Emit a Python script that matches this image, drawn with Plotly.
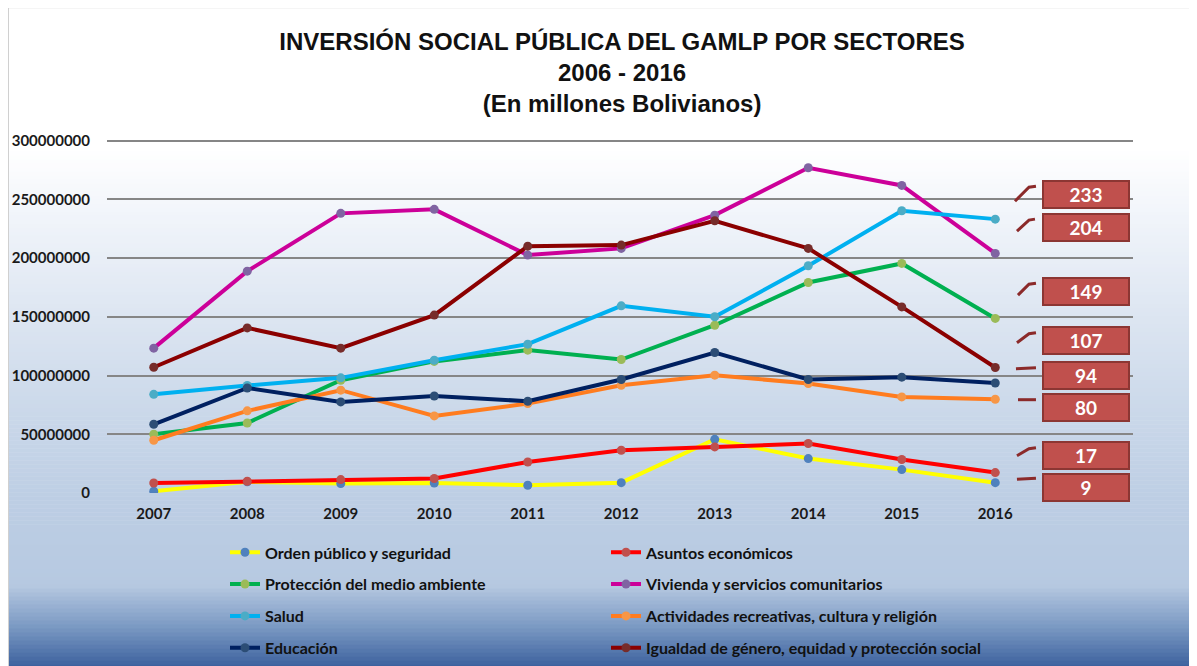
import plotly.graph_objects as go

# ---------------- data ----------------
years = ["2007", "2008", "2009", "2010", "2011", "2012", "2013", "2014", "2015", "2016"]

orden_publico = [1.5e6, 9.5e6, 8.0e6, 8.5e6, 6.6e6, 8.8e6, 45.7e6, 29.3e6, 19.9e6, 8.8e6]
asuntos_economicos = [8.5e6, 10.0e6, 11.4e6, 12.3e6, 26.4e6, 36.4e6, 39.2e6, 42.1e6, 28.5e6, 17.4e6]
proteccion_ambiente = [50.0e6, 59.6e6, 96.0e6, 112.0e6, 121.6e6, 113.6e6, 142.8e6, 179.2e6, 195.4e6, 148.6e6]
vivienda = [123.3e6, 188.8e6, 238.0e6, 241.4e6, 202.5e6, 208.2e6, 236.5e6, 276.8e6, 261.8e6, 203.9e6]
salud = [84.0e6, 91.5e6, 98.0e6, 113.0e6, 126.7e6, 159.3e6, 150.0e6, 193.4e6, 240.2e6, 233.1e6]
actividades = [44.9e6, 69.9e6, 87.5e6, 65.6e6, 76.1e6, 91.7e6, 100.3e6, 93.2e6, 81.8e6, 79.8e6]
educacion = [58.5e6, 89.4e6, 77.5e6, 82.6e6, 78.1e6, 96.6e6, 119.6e6, 96.6e6, 98.6e6, 93.6e6]
igualdad = [107.0e6, 140.5e6, 123.3e6, 151.4e6, 210.1e6, 211.0e6, 231.7e6, 208.2e6, 158.4e6, 106.8e6]

series_names = [
    "Orden público y seguridad",
    "Asuntos económicos",
    "Protección del medio ambiente",
    "Vivienda y servicios comunitarios",
    "Salud",
    "Actividades recreativas, cultura y religión",
    "Educación",
    "Igualdad de género, equidad y protección social",
]
series_values = [orden_publico, asuntos_economicos, proteccion_ambiente, vivienda,
                 salud, actividades, educacion, igualdad]

y_ticks = [0, 50e6, 100e6, 150e6, 200e6, 250e6, 300e6]
y_max = 303e6

# callout boxes (last-year values, in millions), ordered top to bottom
callout_series = [4, 3, 2, 7, 6, 5, 1, 0]

# ---------------- styles ----------------
line_colors = ["#ffff00", "#ff0000", "#00b050", "#cc0099",
               "#00b0f0", "#ff7c1f", "#002060", "#8b0000"]
marker_colors = ["#4f81bd", "#c0504d", "#9bbb59", "#8064a2",
                 "#4bacc6", "#f79646", "#2c4d75", "#772c2a"]
legend_of = ["legend", "legend2", "legend", "legend2",
             "legend", "legend2", "legend", "legend2"]

# label box centres (data units) and leader shapes (pixel offsets from box centre)
box_y = [254.3e6, 226.3e6, 171.8e6, 129.6e6, 99.8e6, 72.6e6, 31.7e6, 4.9e6]
box_x = 9.97
leader_paths = [
    "M -71 -7 L -57 7 L -50 8",
    "M -69 -4 L -57 7 L -51 8",
    "M -68 -4 L -57 7 L -50 8",
    "M -69 -2 L -57 7 L -50 8",
    "M -70 7 L -50 8",
    "M -68 8 L -50 8",
    "M -69 0 L -57 7 L -50 8",
    "M -69 8 L -50 9",
]

# The page shows the figure offset by the body margin (8 px); page coords -> figure coords
OFF = 8
W, H = 1197, 666
plot_left_page, plot_right_page = 107, 1133
y300_page, y0_page = 141, 492.7
PH = (y0_page - y300_page) * y_max / 300e6
ML = plot_left_page - OFF
MR = W - (plot_right_page - OFF)
MB = H - (y0_page - OFF)
MT = H - MB - PH
PW = W - ML - MR


def px_to_paper_x(px_page):
    return (px_page - OFF - ML) / PW


def px_to_paper_y(py_page):
    return (H - MB - (py_page - OFF)) / PH


fig = go.Figure()

for i, (name, vals) in enumerate(zip(series_names, series_values)):
    fig.add_trace(go.Scatter(
        x=years, y=vals, name=name, mode="lines+markers",
        line=dict(color=line_colors[i], width=4),
        marker=dict(color=marker_colors[i], size=9),
        legend=legend_of[i], legendgroup=name,
    ))

# ---------------- background gradient (page pixel stops) ----------------
stops = [(8, (255, 255, 255)), (150, (255, 255, 255)), (220, (240, 244, 250)),
         (320, (220, 229, 241)), (420, (201, 215, 233)), (500, (189, 206, 228)),
         (585, (182, 201, 225)), (600, (160, 183, 214)), (625, (125, 155, 196)),
         (666, (60, 97, 158))]


def color_at(py):
    for (y0, c0), (y1, c1) in zip(stops[:-1], stops[1:]):
        if y0 <= py <= y1:
            t = (py - y0) / (y1 - y0)
            return "rgb(%d,%d,%d)" % tuple(round(a + (b - a) * t) for a, b in zip(c0, c1))
    return "rgb(%d,%d,%d)" % stops[-1][1]


shapes = []
step = 4
py = 8
while py < H:
    shapes.append(dict(type="rect", xref="paper", yref="paper", layer="below",
                       x0=px_to_paper_x(9), x1=px_to_paper_x(W + 10),
                       y0=px_to_paper_y(min(py + step + 0.5, H + 10)), y1=px_to_paper_y(py),
                       line=dict(width=0), fillcolor=color_at(py + step / 2)))
    py += step
shapes.append(dict(type="rect", xref="paper", yref="paper", layer="below",
                   x0=px_to_paper_x(8.5), x1=px_to_paper_x(W + 12),
                   y0=px_to_paper_y(H + 12), y1=px_to_paper_y(8.5),
                   line=dict(width=1, color="#d0d0d0"), fillcolor="rgba(0,0,0,0)"))

# leader lines
for k, si in enumerate(callout_series):
    shapes.append(dict(type="path", xref="x", yref="y", xsizemode="pixel", ysizemode="pixel",
                       xanchor=box_x, yanchor=box_y[k], path=leader_paths[k],
                       line=dict(color="#8b2a2a", width=3), layer="above"))

annotations = []
for k, si in enumerate(callout_series):
    annotations.append(dict(
        x=box_x, y=box_y[k], xref="x", yref="y", showarrow=False,
        text="<b>%d</b>" % round(series_values[si][-1] / 1e6),
        font=dict(family="Lato", size=19, color="white"),
        bgcolor="#c0504d", bordercolor="#8c3633", borderwidth=2, borderpad=1,
        width=82, height=23, align="center", valign="middle",
    ))

legend_font = dict(family="Lato", size=16, color="#111111", weight="bold")

fig.update_layout(
    width=W, height=H,
    margin=dict(l=ML, r=MR, t=MT, b=MB, autoexpand=False),
    paper_bgcolor="white", plot_bgcolor="rgba(0,0,0,0)",
    title=dict(
        text="<b>INVERSIÓN SOCIAL PÚBLICA DEL GAMLP POR SECTORES<br>2006 - 2016<br>(En millones Bolivianos)</b>",
        x=0.513, xanchor="center", y=1 - 42 / H, yanchor="top",
        font=dict(family="Liberation Sans", size=24, color="#111111"),
    ),
    xaxis=dict(type="category", range=[-0.5, 10.473], showgrid=False, zeroline=False,
               showline=False, ticks="", ticklabelstandoff=10,
               tickfont=dict(family="Lato", size=15, color="#1a1a1a", weight="bold")),
    yaxis=dict(range=[0, y_max], tickvals=y_ticks, tickformat="d",
               showgrid=True, gridcolor="#868686", gridwidth=1.5,
               zeroline=True, zerolinecolor="rgba(0,0,0,0)", showline=False,
               ticks="", ticklabelstandoff=16,
               tickfont=dict(family="Lato", size=15, color="#1a1a1a", weight="bold")),
    legend=dict(x=px_to_paper_x(225), y=px_to_paper_y(535), xanchor="left", yanchor="top",
                orientation="v", traceorder="grouped", tracegroupgap=8,
                bgcolor="rgba(0,0,0,0)", itemwidth=30, font=legend_font),
    legend2=dict(x=px_to_paper_x(606), y=px_to_paper_y(535), xanchor="left", yanchor="top",
                 orientation="v", traceorder="grouped", tracegroupgap=8,
                 bgcolor="rgba(0,0,0,0)", itemwidth=30, font=legend_font),
    shapes=shapes,
    annotations=annotations,
    showlegend=True,
)

fig.write_html("out.html")
